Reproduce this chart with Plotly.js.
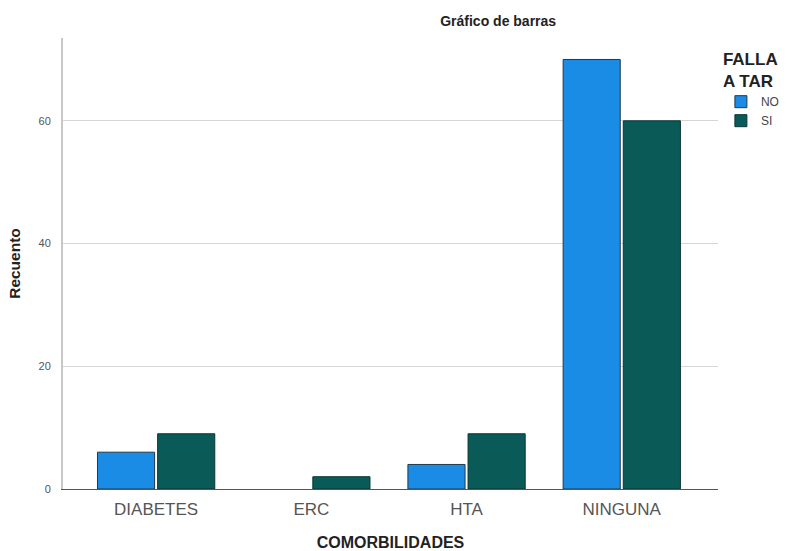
<!DOCTYPE html>
<html><head><meta charset="utf-8">
<script src="https://cdn.plot.ly/plotly-3.0.1.min.js"></script>
<style>body{margin:0;background:#fff}#c{width:787px;height:551px}</style>
</head><body><div id="c"></div>
<script>
const categories = ["DIABETES", "ERC", "HTA", "NINGUNA"];
const seriesNO = [6, 0, 4, 70];
const seriesSI = [9, 2, 9, 60];
const yTicks = [0, 20, 40, 60];

const font = "Liberation Sans, Arial, sans-serif";
const traces = [
  {type: "bar", name: "NO", x: categories, y: seriesNO,
   marker: {color: "#1a8ce6", line: {color: "#1f3a4a", width: seriesNO.map(v => v > 0 ? 1 : 0)}}},
  {type: "bar", name: "SI", x: categories, y: seriesSI,
   marker: {color: "#0a5b57", line: {color: "#0b3533", width: 1}}}
];
const layout = {
  width: 787, height: 551,
  margin: {l: 63, r: 69, t: 38, b: 62},
  paper_bgcolor: "#fff", plot_bgcolor: "#fff",
  barmode: "group", bargap: 0.225, bargroupgap: 0.05,
  font: {family: font, color: "#333"},
  title: {text: "<b>Gráfico de barras</b>", x: 0.633, xanchor: "center", y: 0.962, yanchor: "middle",
          font: {size: 14, color: "#222", family: font}},
  xaxis: {range: [-0.6, 3.62], showline: true, linecolor: "#555", linewidth: 1,
          ticks: "", tickfont: {size: 17, color: "#555"}, showgrid: false, ticklabelstandoff: 5,
          title: {text: "<b>COMORBILIDADES</b>", font: {size: 16, color: "#222"}, standoff: 18}},
  yaxis: {range: [0, 73.5], tickvals: yTicks, showline: true, linecolor: "#c8c8c8", linewidth: 2,
          ticks: "", tickfont: {size: 11, color: "#555"}, showgrid: true, gridcolor: "#d6d6d6",
          zeroline: false, ticklabelstandoff: 8,
          title: {text: "<b>Recuento</b>", font: {size: 15.5, color: "#222"}, standoff: 14}},
  legend: {xref: "container", yref: "container", x: 0.916, xanchor: "left", y: 0.922, yanchor: "top",
           title: {text: "<b>FALLA<br>A TAR</b>", font: {size: 17, color: "#222"}, side: "top"},
           font: {size: 12, color: "#444"}, itemwidth: 30, tracegroupgap: 0},
  showlegend: true
};
Plotly.newPlot("c", traces, layout, {displayModeBar: false, staticPlot: true});
</script></body></html>
